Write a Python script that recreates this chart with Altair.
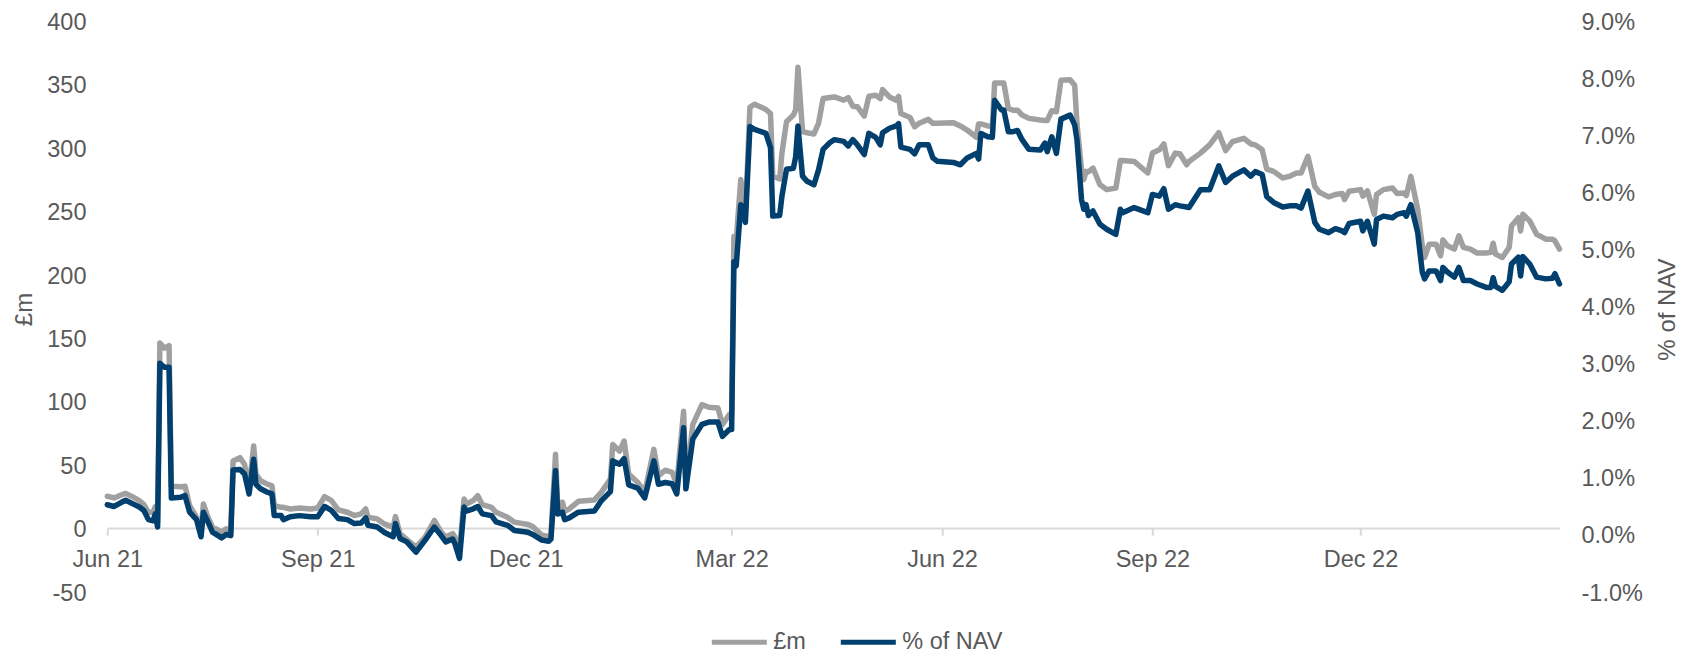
import altair as alt
import pandas as pd

# ---------------- data ----------------
dates = [
    "2021-06-01","2021-06-04","2021-06-07","2021-06-09","2021-06-12","2021-06-15","2021-06-17","2021-06-19","2021-06-21","2021-06-22","2021-06-23","2021-06-24","2021-06-26","2021-06-28","2021-06-29",
    "2021-07-03","2021-07-05","2021-07-07","2021-07-10","2021-07-12","2021-07-13","2021-07-15","2021-07-17","2021-07-21","2021-07-23","2021-07-25","2021-07-26","2021-07-29","2021-07-31",
    "2021-08-02","2021-08-04","2021-08-05","2021-08-07","2021-08-10","2021-08-12","2021-08-13","2021-08-16","2021-08-17","2021-08-20","2021-08-24","2021-08-29",
    "2021-09-01","2021-09-04","2021-09-07","2021-09-10","2021-09-14","2021-09-17","2021-09-20","2021-09-22","2021-09-23","2021-09-27","2021-09-30",
    "2021-10-04","2021-10-05","2021-10-07","2021-10-10","2021-10-14","2021-10-18","2021-10-22","2021-10-25","2021-10-27","2021-10-30","2021-10-31",
    "2021-11-02","2021-11-04","2021-11-05","2021-11-08","2021-11-10","2021-11-12","2021-11-16","2021-11-18","2021-11-23","2021-11-26",
    "2021-12-02","2021-12-04","2021-12-08","2021-12-11","2021-12-12","2021-12-14","2021-12-15","2021-12-17","2021-12-18","2021-12-20","2021-12-24","2021-12-31",
    "2022-01-03","2022-01-07","2022-01-08","2022-01-11","2022-01-13","2022-01-15","2022-01-19","2022-01-22","2022-01-26","2022-01-28","2022-01-31",
    "2022-02-03","2022-02-05","2022-02-08","2022-02-09","2022-02-12","2022-02-16","2022-02-19","2022-02-23","2022-02-25","2022-02-28",
    "2022-03-01","2022-03-02","2022-03-03","2022-03-05","2022-03-07","2022-03-09","2022-03-11","2022-03-16","2022-03-18","2022-03-19","2022-03-22","2022-03-23","2022-03-25","2022-03-28","2022-03-29","2022-03-30",
    "2022-04-01","2022-04-03","2022-04-06","2022-04-08","2022-04-10","2022-04-13","2022-04-15","2022-04-19","2022-04-21","2022-04-23","2022-04-25","2022-04-28","2022-04-30",
    "2022-05-03","2022-05-05","2022-05-06","2022-05-09","2022-05-12","2022-05-13","2022-05-14","2022-05-18","2022-05-20","2022-05-22","2022-05-26","2022-05-28","2022-05-30",
    "2022-06-06","2022-06-09","2022-06-12","2022-06-16","2022-06-17","2022-06-18","2022-06-21","2022-06-23","2022-06-24","2022-06-27","2022-06-28","2022-06-30",
    "2022-07-02","2022-07-04","2022-07-06","2022-07-09","2022-07-14","2022-07-16","2022-07-17","2022-07-19","2022-07-21","2022-07-23","2022-07-27","2022-07-29","2022-07-30",
    "2022-08-01","2022-08-02","2022-08-03","2022-08-04","2022-08-06","2022-08-09","2022-08-12","2022-08-16","2022-08-18","2022-08-19","2022-08-24","2022-08-30",
    "2022-09-01","2022-09-04","2022-09-06","2022-09-08","2022-09-11","2022-09-13","2022-09-16","2022-09-17","2022-09-22","2022-09-26","2022-09-30",
    "2022-10-03","2022-10-06","2022-10-11","2022-10-14","2022-10-16","2022-10-19","2022-10-21","2022-10-24","2022-10-28","2022-10-31",
    "2022-11-03","2022-11-05","2022-11-08","2022-11-11","2022-11-13","2022-11-17","2022-11-20","2022-11-23","2022-11-24","2022-11-26",
    "2022-12-01","2022-12-02","2022-12-04","2022-12-07","2022-12-08","2022-12-11","2022-12-15","2022-12-17","2022-12-20","2022-12-21","2022-12-23","2022-12-26","2022-12-28","2022-12-29","2022-12-31",
    "2023-01-03","2023-01-05","2023-01-06","2023-01-08","2023-01-11","2023-01-13","2023-01-15","2023-01-18","2023-01-21","2023-01-25","2023-01-27","2023-01-28","2023-01-29",
    "2023-02-01","2023-02-04","2023-02-05","2023-02-08","2023-02-09","2023-02-10","2023-02-13","2023-02-16","2023-02-20","2023-02-23","2023-02-24","2023-02-26",
]

gbp_m = [
    25.1, 23.8, 26.1, 27.4, 24.8, 21.7, 18.5, 12.5, 12.5, 17.0, 4.7, 146, 142, 144, 33.0,
    32.6, 33.0, 17.8, 8.6, -3.0, 19.0, 8.6, 0.8, -3.1, -0.5, -3.1, 53.0, 55.6, 50.4,
    32.0, 64.8, 42.6, 37.3, 34.7, 33.4, 17.8, 16.4, 16.4, 15.1, 15.9, 15.1,
    15.9, 24.8, 21.7, 14.4, 12.5, 9.9, 11.2, 15.1, 8.6, 7.3, 3.4,
    0.8, 9.1, -4.4, -9.1, -14.9, -7.0, 6.0, -3.1, -7.0, -4.4, -7.0,
    -18.8, 23.0, 19.1, 21.7, 25.6, 18.5, 16.4, 12.5, 8.6, 4.7,
    2.9, 1.3, -5.7, -6.5, -5.0, 58.2, 13.8, 20.4, 13.3, 15.1, 21.1, 22.2,
    28.2, 38.6, 66.0, 60.8, 68.7, 42.6, 36.0, 28.2, 62.1, 41.3, 45.7,
    43.9, 34.7, 92.2, 34.7, 81.7, 97.4, 95.3, 94.8, 81.7, 89.6,
    88.0, 230, 226.8, 275, 246, 332, 334.4, 330.2, 327, 277.5, 275.4, 295.8, 320.6, 325.8, 330, 363.6,
    312.7, 311.9, 310.9, 319.3, 338.8, 339.6, 340.1, 337.5, 339.6, 332.8, 332.3, 325.0, 340.6,
    341.4, 338.8, 345.9, 340.1, 337.5, 340.6, 327.0, 323.9, 316.6, 319.3, 322.4, 319.3, 319.3,
    319.8, 317.2, 314.0, 308.3, 318.8, 318.8, 317.2, 317.0, 351.1, 351.1, 351.1, 331.0,
    329.7, 329.7, 325.8, 323.2, 321.9, 321.5, 321.5, 329.2, 328.4, 353.2, 353.7, 349.3, 319.3,
    282.8, 274.9, 281.4, 281.0, 284.0, 271.0, 267.0, 268.3, 290.0, 290.0, 289.2, 280.1,
    295.8, 298.4, 303.1, 285.9, 295.8, 295.3, 286.6, 289.2, 295.8, 302.3, 311.9,
    297.8, 304.9, 307.5, 303.0, 302.3, 298.4, 283.2, 281.4, 276.2, 277.5,
    280.1, 280.1, 293.2, 269.6, 264.9, 261.3, 263.1, 263.9, 259.2, 265.7,
    267.0, 261.8, 266.0, 247.5, 263.1, 267.0, 268.3, 264.0, 264.4, 262.3, 277.5, 251.4, 222.7, 213.5, 223.9,
    223.9, 214.8, 227.3, 222.7, 220.1, 230.5, 221.4, 220.1, 217.0, 217.0, 217.5, 224.7, 216.1,
    213.5, 221.4, 238.3, 244.9, 234.4, 247.5, 242.2, 231.8, 227.9, 227.9, 226.6, 220.1,
]

pct_nav = [
    0.52, 0.49, 0.56, 0.60, 0.54, 0.48, 0.42, 0.26, 0.24, 0.36, 0.13, 3.00, 2.93, 2.93, 0.64,
    0.65, 0.68, 0.39, 0.26, -0.04, 0.39, 0.22, 0.04, -0.06, 0.00, -0.02, 1.13, 1.14, 1.06,
    0.71, 1.32, 0.88, 0.80, 0.74, 0.71, 0.33, 0.33, 0.26, 0.31, 0.33, 0.31,
    0.31, 0.49, 0.42, 0.28, 0.26, 0.19, 0.20, 0.29, 0.16, 0.13, 0.04,
    -0.04, 0.19, -0.07, -0.13, -0.31, -0.10, 0.13, -0.02, -0.13, -0.08, -0.16,
    -0.42, 0.48, 0.41, 0.45, 0.49, 0.36, 0.33, 0.22, 0.16, 0.07,
    0.04, 0.00, -0.10, -0.12, -0.08, 1.12, 0.36, 0.39, 0.26, 0.29, 0.39, 0.41,
    0.59, 0.75, 1.29, 1.23, 1.33, 0.87, 0.81, 0.64, 1.29, 0.88, 0.91,
    0.89, 0.71, 1.87, 0.80, 1.67, 1.93, 1.97, 1.97, 1.72, 1.84,
    1.84, 4.78, 4.71, 5.78, 5.47, 7.15, 7.10, 7.03, 6.78, 5.58, 5.59, 5.93, 6.40, 6.42, 6.62, 7.16,
    6.28, 6.19, 6.13, 6.39, 6.75, 6.87, 6.92, 6.89, 6.81, 6.92, 6.83, 6.66, 7.03,
    6.96, 6.83, 7.04, 7.12, 7.16, 7.20, 6.79, 6.75, 6.67, 6.83, 6.83, 6.60, 6.54,
    6.52, 6.48, 6.60, 6.68, 6.58, 7.03, 6.97, 6.96, 7.61, 7.44, 7.44, 7.06,
    7.06, 7.08, 6.92, 6.75, 6.74, 6.86, 6.71, 6.97, 6.68, 7.28, 7.35, 7.18, 6.92,
    5.87, 5.70, 5.78, 5.59, 5.67, 5.44, 5.35, 5.26, 5.70, 5.64, 5.73, 5.64,
    5.96, 5.93, 6.06, 5.70, 5.78, 5.76, 5.74, 5.73, 6.04, 6.04, 6.46,
    6.17, 6.28, 6.39, 6.28, 6.36, 6.31, 5.92, 5.82, 5.74, 5.76,
    5.76, 5.72, 6.02, 5.47, 5.35, 5.29, 5.36, 5.32, 5.29, 5.45,
    5.49, 5.32, 5.49, 5.09, 5.52, 5.58, 5.55, 5.61, 5.64, 5.58, 5.78, 5.29, 4.60, 4.48, 4.62,
    4.62, 4.45, 4.68, 4.60, 4.51, 4.68, 4.45, 4.45, 4.39, 4.33, 4.33, 4.50, 4.35,
    4.28, 4.43, 4.74, 4.86, 4.53, 4.87, 4.74, 4.51, 4.48, 4.49, 4.57, 4.39,
]

x_tick_dates = [(2021, 6), (2021, 9), (2021, 12), (2022, 3), (2022, 6), (2022, 9), (2022, 12)]
left_ticks = [-50, 0, 50, 100, 150, 200, 250, 300, 350, 400]
right_ticks = [-1, 0, 1, 2, 3, 4, 5, 6, 7, 8, 9]
series_names = ["£m", "% of NAV"]
series_colors = ["#A0A0A0", "#003F6E"]

# ---------------- chart ----------------
df = pd.DataFrame({"date": pd.to_datetime(dates), "gbp": gbp_m, "pct": pct_nav})

FONT = "Liberation Sans"
TXT = "#595959"
AXIS_GREY = "#D9D9D9"
PAD_TOP = 13.0
W, H = 1452.2, 570.5
LW = 5.5

x_enc = alt.X(
    "date:T",
    scale=alt.Scale(
        domain=[alt.DateTime(year=2021, month=6, date=1), alt.DateTime(year=2023, month=2, date=26)],
        nice=False,
    ),
    axis=alt.Axis(
        values=[alt.DateTime(year=y, month=m, date=1) for y, m in x_tick_dates],
        format="%b %y",
        title=None,
        grid=False,
        labelFlush=False,
        labelOverlap=False,
        offset=-H * 50 / 450,
        domainColor=AXIS_GREY,
        domainWidth=2,
        tickColor=AXIS_GREY,
        tickWidth=2,
        tickSize=7,
        labelPadding=12.8,
    ),
)

color_enc = alt.Color(
    "series:N",
    scale=alt.Scale(domain=series_names, range=series_colors),
    legend=alt.Legend(
        title=None,
        orient="none",
        legendX=602,
        legendY=639.5 - (8 + PAD_TOP) - 27.5,
        direction="horizontal",
        symbolType="stroke",
        symbolSize=3025,
        symbolStrokeWidth=5,
        labelFontSize=23.5,
        labelFont=FONT,
        labelColor=TXT,
        labelOffset=4,
        columnPadding=24,
        padding=0,
    ),
)

base = alt.Chart(df)

gbp_line = base.transform_calculate(series="'£m'").mark_line(
    strokeWidth=LW, strokeJoin="round", strokeCap="round"
).encode(
    x=x_enc,
    y=alt.Y(
        "gbp:Q",
        scale=alt.Scale(domain=[-50, 400], nice=False, zero=False),
        axis=alt.Axis(
            orient="left",
            values=left_ticks,
            labelExpr="datum.value < 0 ? '-' + format(-datum.value, 'd') : format(datum.value, 'd')",
            title="£m",
            titleAngle=270,
            titleX=-82.8,
            titleY=288,
            titleBaseline="middle",
            titleAlign="center",
            grid=False,
            domain=False,
            ticks=False,
            tickSize=0,
            labelPadding=21.3,
            labelOffset=1.5,
        ),
    ),
    color=color_enc,
)

pct_line = base.transform_calculate(series="'% of NAV'").mark_line(
    strokeWidth=LW, strokeJoin="round", strokeCap="round"
).encode(
    x=x_enc,
    y=alt.Y(
        "pct:Q",
        scale=alt.Scale(domain=[-1, 9], nice=False, zero=False),
        axis=alt.Axis(
            orient="right",
            values=right_ticks,
            labelExpr="(datum.value < 0 ? '-' : '') + format(abs(datum.value), '.1f') + '%'",
            title="% of NAV",
            titleAngle=270,
            titleX=108,
            titleY=288,
            titleBaseline="middle",
            titleAlign="center",
            grid=False,
            domain=False,
            ticks=False,
            tickSize=0,
            labelPadding=21.5,
            labelOffset=1.5,
        ),
    ),
    color=color_enc,
)

chart = (
    alt.layer(gbp_line, pct_line)
    .resolve_scale(y="independent")
    .properties(
        width=W,
        height=H,
        autosize=alt.AutoSizeParams(type="none"),
        padding={"left": 99.3, "top": PAD_TOP, "right": 122.5, "bottom": 647 - PAD_TOP - H},
        background="white",
    )
    .configure_view(stroke=None)
    .configure_axis(
        labelFont=FONT,
        titleFont=FONT,
        labelColor=TXT,
        titleColor=TXT,
        labelFontSize=23.5,
        titleFontSize=24,
        titleFontWeight="normal",
    )
)

chart.save("out.html", embed_options={"renderer": "svg", "actions": False})
